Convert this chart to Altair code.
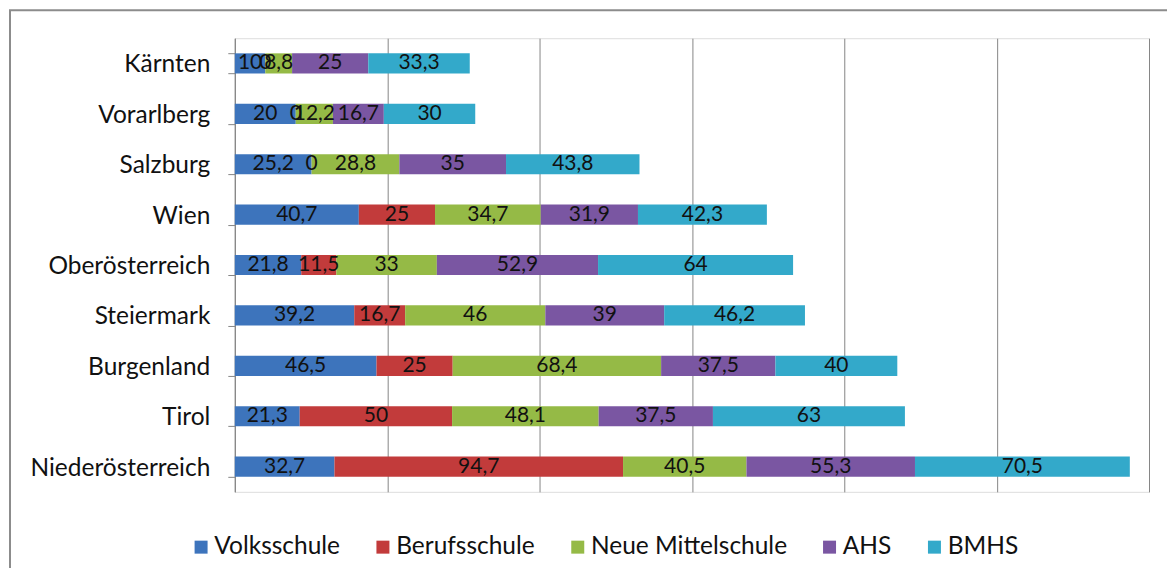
import altair as alt
import pandas as pd

regions = ["Kärnten", "Vorarlberg", "Salzburg", "Wien", "Oberösterreich",
           "Steiermark", "Burgenland", "Tirol", "Niederösterreich"]
series = ["Volksschule", "Berufsschule", "Neue Mittelschule", "AHS", "BMHS"]
colors = ["#3D74BC", "#C23B3B", "#95BA46", "#7A56A2", "#33A9CA"]

volksschule = [10, 20, 25.2, 40.7, 21.8, 39.2, 46.5, 21.3, 32.7]
berufsschule = [0, 0, 0, 25, 11.5, 16.7, 25, 50, 94.7]
neue_mittelschule = [8.8, 12.2, 28.8, 34.7, 33, 46, 68.4, 48.1, 40.5]
ahs = [25, 16.7, 35, 31.9, 52.9, 39, 37.5, 37.5, 55.3]
bmhs = [33.3, 30, 43.8, 42.3, 64, 46.2, 40, 63, 70.5]

grid_values = [0, 50, 100, 150, 200, 250, 300]

cols = [volksschule, berufsschule, neue_mittelschule, ahs, bmhs]
rows = []
for si, (s, vals) in enumerate(zip(series, cols)):
    for r, v in zip(regions, vals):
        rows.append({"region": r, "series": s, "idx": si, "value": v})
df = pd.DataFrame(rows)

FONT = "Lato"

base = alt.Chart(df).transform_stack(
    stack="value", groupby=["region"], as_=["x0", "x1"],
    sort=[alt.SortField("idx", order="ascending")]
).transform_calculate(
    mid="(datum.x0 + datum.x1) / 2",
    label="replace(toString(datum.value), '.', ',')"
)

y_enc = alt.Y("region:N", sort=regions,
              scale=alt.Scale(paddingInner=0.6, paddingOuter=0.3),
              axis=alt.Axis(title=None, labelFontSize=24.5, labelFont=FONT,
                            labelColor="#111111", labelPadding=18, labelOffset=1.5,
                            tickBand="extent", tickSize=7, tickColor="#868686",
                            domainColor="#868686", grid=False, labelLimit=400))

x_scale = alt.Scale(domain=[0, 300], nice=False)

bars = base.mark_bar(stroke=None).encode(
    x=alt.X("x0:Q", scale=x_scale,
            axis=alt.Axis(title=None, values=grid_values, labels=False, ticks=False,
                          domain=False, grid=True, gridColor="#868686", gridWidth=1)),
    x2="x1:Q",
    y=y_enc,
    color=alt.Color("series:N", scale=alt.Scale(domain=series, range=colors),
                    legend=alt.Legend(title=None, orient="none", direction="horizontal",
                                      legendX=-46, legendY=497, symbolType="square",
                                      symbolSize=169, symbolStrokeWidth=0,
                                      labelFontSize=24.5, labelFont=FONT,
                                      labelColor="#111111", labelOffset=1,
                                      labelLimit=400, columnPadding=30)),
)

texts = base.mark_text(fontSize=21, font=FONT, color="#111111", baseline="middle").encode(
    x=alt.X("mid:Q", scale=x_scale),
    y=alt.Y("region:N", sort=regions),
    text="label:N",
)

border = alt.Chart(pd.DataFrame({"a": [0]})).mark_rect(
    filled=False, stroke="#8C8C8C", strokeWidth=2
).encode(
    x=alt.value(-225), x2=alt.value(1000), y=alt.value(-28), y2=alt.value(700)
)

chart = alt.layer(bars, texts, border).properties(
    width=915, height=454,
    autosize=alt.AutoSizeParams(type="none"),
    padding={"left": 227, "top": 30, "right": 18, "bottom": 76},
).configure_view(stroke=None).configure(background="white")

chart.save("out.html", embed_options={"renderer": "svg", "actions": False})
